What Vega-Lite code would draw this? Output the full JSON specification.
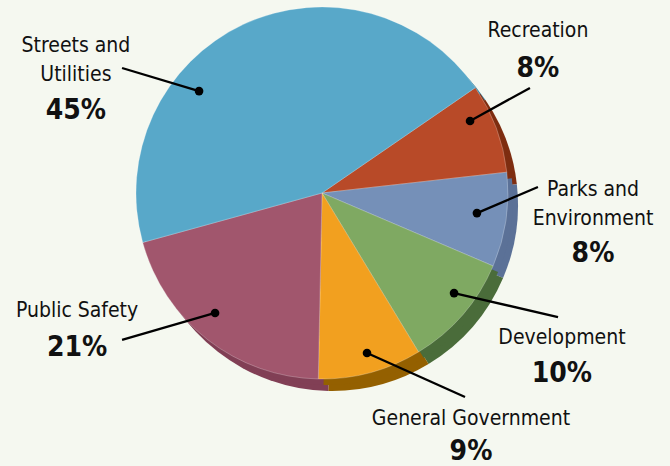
{
  "$schema": "https://vega.github.io/schema/vega-lite/v6.json",
  "width": 670,
  "height": 466,
  "padding": 0,
  "autosize": {"type": "fit", "contains": "padding"},
  "background": "#f5f8f0",
  "config": {"view": {"stroke": null}},
  "datasets": {
    "slices": [
      {"name": "Recreation", "share": 7.8, "ord": 1},
      {"name": "Parks and Environment", "share": 8.2, "ord": 2},
      {"name": "Development", "share": 9.9, "ord": 3},
      {"name": "General Government", "share": 9.0, "ord": 4},
      {"name": "Public Safety", "share": 20.4, "ord": 5},
      {"name": "Streets and Utilities", "share": 44.7, "ord": 6}
    ],
    "labels": [
      {"label": "Recreation", "pct": "8%", "dotx": 79.6, "doty": 38.7, "endx": 111.8, "endy": 56.5, "tx": 116.1, "ty": 83.9, "py": 62.4},
      {"label": "Parks and\nEnvironment", "pct": "8%", "dotx": 83.3, "doty": -10.8, "endx": 116.1, "endy": 3.2, "tx": 145.7, "ty": -1.6, "py": -37.1},
      {"label": "Development", "pct": "10%", "dotx": 71.0, "doty": -53.8, "endx": 126.9, "endy": -66.7, "tx": 129.0, "ty": -81.2, "py": -101.6},
      {"label": "General Government", "pct": "9%", "dotx": 24.2, "doty": -86.0, "endx": 76.9, "endy": -109.7, "tx": 80.1, "ty": -124.7, "py": -143.5},
      {"label": "Public Safety", "pct": "21%", "dotx": -57.5, "doty": -64.5, "endx": -107.5, "endy": -79.0, "tx": -131.7, "ty": -66.7, "py": -87.6},
      {"label": "Streets and\nUtilities", "pct": "45%", "dotx": -66.1, "doty": 54.8, "endx": -107.5, "endy": 67.2, "tx": -132.3, "ty": 75.8, "py": 39.8}
    ]
  },
  "resolve": {"scale": {"color": "independent"}},
  "layer": [
    {
      "data": {"name": "slices"},
      "mark": {"type": "arc", "outerRadius": 186, "xOffset": 10, "yOffset": 12},
      "encoding": {
        "x": {"datum": 0, "type": "quantitative", "scale": {"domain": [-173.12, 187.1], "zero": false, "nice": false}, "axis": null},
        "y": {"datum": 0, "type": "quantitative", "scale": {"domain": [-146.77, 103.76], "zero": false, "nice": false}, "axis": null},
        "theta": {"field": "share", "type": "quantitative", "stack": true, "scale": {"range": [0.9687, 7.2519]}},
        "order": {"field": "ord", "type": "quantitative"},
        "color": {"field": "name", "type": "nominal", "legend": null, "scale": {"domain": ["Recreation", "Parks and Environment", "Development", "General Government", "Public Safety", "Streets and Utilities"], "range": ["#7e2d10", "#5b7197", "#4a6c3a", "#946000", "#813f55", "#3f88a6"]}}
      }
    },
    {
      "data": {"name": "slices"},
      "mark": {"type": "arc", "outerRadius": 186, "xOffset": 5, "yOffset": 6},
      "encoding": {
        "x": {"datum": 0, "type": "quantitative", "axis": null},
        "y": {"datum": 0, "type": "quantitative", "axis": null},
        "theta": {"field": "share", "type": "quantitative", "stack": true},
        "order": {"field": "ord", "type": "quantitative"},
        "color": {"field": "name", "type": "nominal", "legend": null, "scale": {"domain": ["Recreation", "Parks and Environment", "Development", "General Government", "Public Safety", "Streets and Utilities"], "range": ["#7e2d10", "#5b7197", "#4a6c3a", "#946000", "#813f55", "#3f88a6"]}}
      }
    },
    {
      "data": {"name": "slices"},
      "mark": {"type": "arc", "outerRadius": 186, "stroke": "#ffffff", "strokeOpacity": 0.35, "strokeWidth": 0.7},
      "encoding": {
        "x": {"datum": 0, "type": "quantitative", "axis": null},
        "y": {"datum": 0, "type": "quantitative", "axis": null},
        "theta": {"field": "share", "type": "quantitative", "stack": true},
        "order": {"field": "ord", "type": "quantitative"},
        "color": {"field": "name", "type": "nominal", "legend": null, "scale": {"domain": ["Recreation", "Parks and Environment", "Development", "General Government", "Public Safety", "Streets and Utilities"], "range": ["#b84a28", "#7590b8", "#7fa962", "#f2a01f", "#a1566d", "#58a8c9"]}}
      }
    },
    {
      "data": {"name": "labels"},
      "mark": {"type": "rule", "color": "#000000", "strokeWidth": 2.3},
      "encoding": {
        "x": {"field": "dotx", "type": "quantitative", "axis": null},
        "y": {"field": "doty", "type": "quantitative", "axis": null},
        "x2": {"field": "endx"},
        "y2": {"field": "endy"}
      }
    },
    {
      "data": {"name": "labels"},
      "mark": {"type": "point", "filled": true, "color": "#000000", "opacity": 1, "size": 75},
      "encoding": {
        "x": {"field": "dotx", "type": "quantitative", "axis": null},
        "y": {"field": "doty", "type": "quantitative", "axis": null}
      }
    },
    {
      "data": {"name": "labels"},
      "mark": {"type": "text", "lineBreak": "\n", "lineHeight": 29, "align": "center", "baseline": "alphabetic", "font": "DejaVu Sans Condensed, sans-serif", "fontSize": 21, "color": "#111111"},
      "encoding": {
        "x": {"field": "tx", "type": "quantitative", "axis": null},
        "y": {"field": "ty", "type": "quantitative", "axis": null},
        "text": {"field": "label"}
      }
    },
    {
      "data": {"name": "labels"},
      "mark": {"type": "text", "align": "center", "baseline": "alphabetic", "font": "DejaVu Sans Condensed, sans-serif", "fontSize": 28, "fontWeight": "bold", "color": "#111111"},
      "encoding": {
        "x": {"field": "tx", "type": "quantitative", "axis": null},
        "y": {"field": "py", "type": "quantitative", "axis": null},
        "text": {"field": "pct"}
      }
    }
  ]
}
